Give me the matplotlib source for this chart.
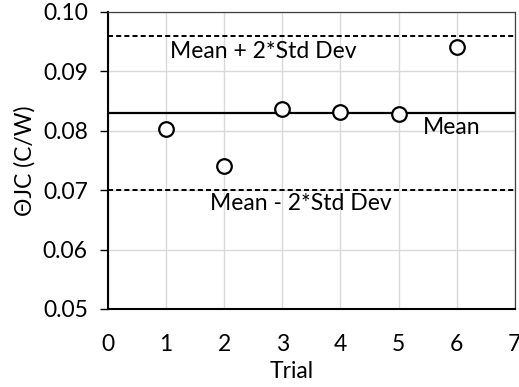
import numpy as np
import matplotlib.pyplot as plt

plt.rcParams['font.family'] = ['Lato', 'DejaVu Sans']

trial = [1, 2, 3, 4, 5, 6]
theta_jc = [0.0803, 0.0741, 0.0837, 0.0832, 0.0828, 0.0941]  # C/W

mean = np.mean(theta_jc)
sd = np.std(theta_jc, ddof=1)
upper = mean + 2 * sd
lower = mean - 2 * sd

fig = plt.figure(figsize=(5.19, 3.87), dpi=100)
ax = fig.add_axes([0.208, 0.2016, 0.784, 0.7674])

ax.set_xlim(0, 7)
ax.set_ylim(0.05, 0.10)
ax.set_xticks(range(0, 8))
ax.set_yticks(np.arange(0.05, 0.1001, 0.01))
ax.set_yticklabels(['%.2f' % v for v in np.arange(0.05, 0.1001, 0.01)])
ax.grid(True, color='#d9d9d9', lw=1.0)
ax.set_axisbelow(True)

ax.axhline(mean, color='black', lw=1.6, zorder=2)
ax.axhline(upper, color='black', lw=1.4, ls=(0, (2.6, 1.6)), zorder=2)
ax.axhline(lower, color='black', lw=1.4, ls=(0, (2.6, 1.6)), zorder=2)

ax.plot(trial, theta_jc, 'o', ms=10.5, mfc='white', mec='black', mew=1.6, zorder=3)

fs = 16.5
ax.text(1.07, 0.0933, 'Mean + 2*Std Dev', fontsize=fs, va='center', ha='left')
ax.text(5.42, 0.0806, 'Mean', fontsize=fs, va='center', ha='left')
ax.text(1.76, 0.0678, 'Mean - 2*Std Dev', fontsize=fs, va='center', ha='left')

for s in ['left', 'bottom']:
    ax.spines[s].set_color('black')
    ax.spines[s].set_linewidth(1.5)
for s in ['top', 'right']:
    ax.spines[s].set_color('#404040')
    ax.spines[s].set_linewidth(0.9)

ax.tick_params(axis='y', length=5.5, width=1.0, pad=9, labelsize=fs)
ax.tick_params(axis='x', length=0, pad=18, labelsize=fs)

ax.set_xlabel('Trial', fontsize=fs, x=0.452, labelpad=4)
ax.set_ylabel('ΘJC (C/W)', fontsize=fs, labelpad=5)

fig.savefig('out.png', dpi=100)
